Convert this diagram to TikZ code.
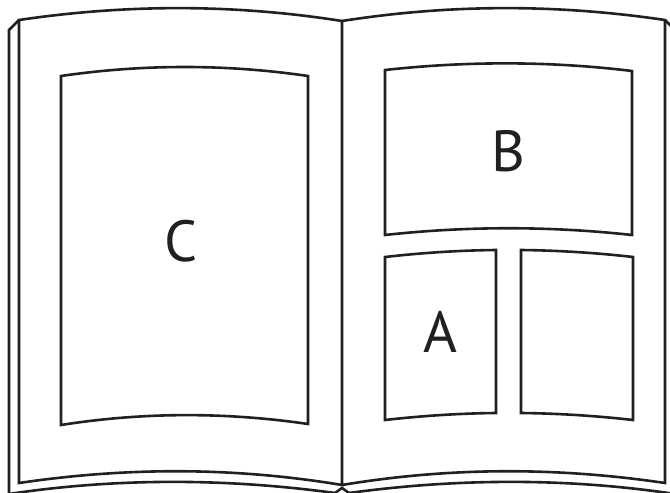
\documentclass[tikz,border=0pt]{standalone}
\usepackage{fontspec}
\setmainfont{PT Sans}
\definecolor{ink}{RGB}{35,31,32}
\tikzset{
    edge/.style={draw=ink, line width=2.6pt, line join=miter},
    letter/.style={text=ink, inner sep=0pt, font=\fontsize{58}{60}\selectfont}
}
\begin{document}
\begin{tikzpicture}[x=1pt, y=-1pt]

    \clip (0,0) rectangle (670,493);

    % back cover
    \draw[edge] (349,493) -- (342,488) -- (335,493)
        .. controls (225,478) and (115,478) .. (9,494) -- (9,30) -- (19,20);
    \draw[edge] (665,20) -- (675,30) -- (675,494)
        .. controls (569,478) and (459,478) .. (349,493);

    % pages
    \draw[edge] (19,483) -- (19,20)
        .. controls (127,4) and (234,4) .. (342,21) -- (342,485)
        .. controls (234,467) and (127,467) .. (19,483) -- cycle;
    \draw[edge] (342,21)
        .. controls (450,4) and (557,4) .. (665,20) -- (665,483)
        .. controls (557,467) and (450,467) .. (342,485);

    % panels
    \draw[edge] (61,76) .. controls (143,64) and (226,64) .. (308,76)
        -- (308,424) .. controls (226,412) and (143,412) .. (61,425) -- cycle;
    \draw[edge] (385,70) .. controls (467,61) and (550,61) .. (632,71)
        -- (632,235) .. controls (550,226) and (467,226) .. (385,235) -- cycle;
    \draw[edge] (385,257) .. controls (422,252.8) and (459,250.4) .. (496,250)
        -- (496,413) .. controls (459,413.4) and (422,415.8) .. (385,420) -- cycle;
    \draw[edge] (521,250) .. controls (558,250.4) and (596,252.8) .. (633,257)
        -- (633,420) .. controls (596,415.8) and (558,413.4) .. (521,413) -- cycle;

    % labels
    \node[letter] (labelC) at (181,241.5) {C};
    \node[letter] (labelB) at (508,151) {B};
    \node[letter] (labelA) at (440,331.5) {A};

\end{tikzpicture}
\end{document}
